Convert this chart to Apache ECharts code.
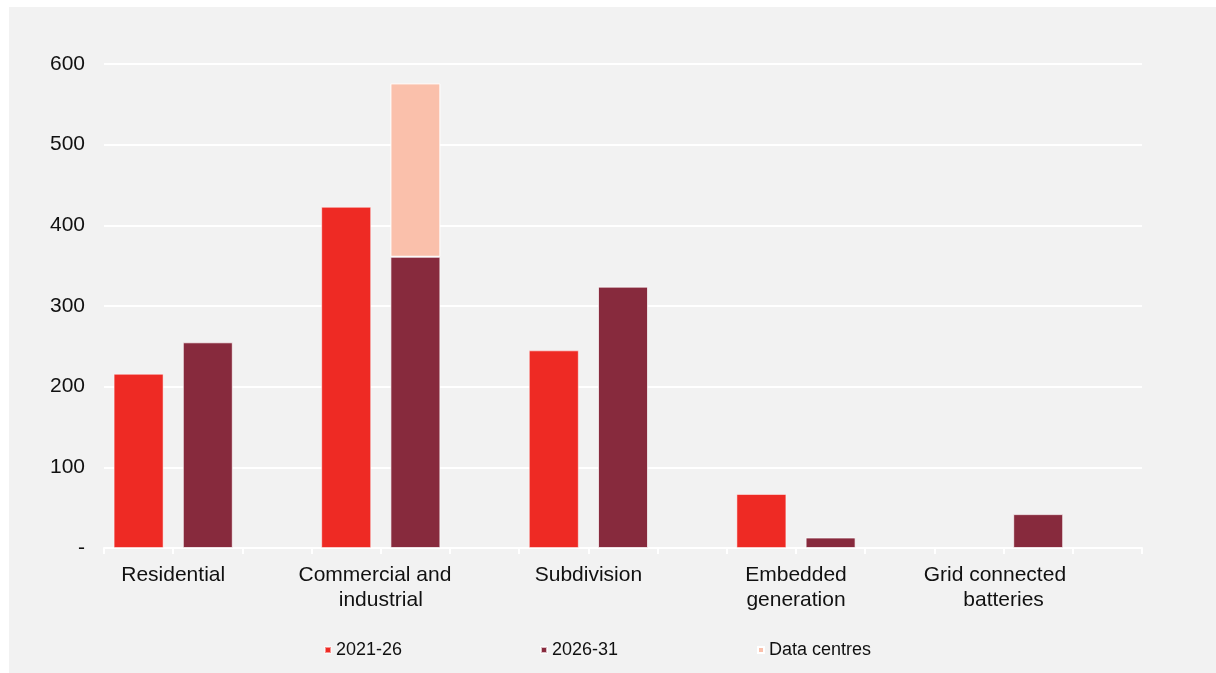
<!DOCTYPE html>
<html>
<head>
<meta charset="utf-8">
<script src="https://cdn.jsdelivr.net/npm/echarts@6/dist/echarts.min.js"></script>
<style>
  html, body { margin: 0; padding: 0; background: #ffffff; }
  #chart { position: absolute; left: 9px; top: 7px; width: 1207px; height: 666px; background: #f2f2f2; }
</style>
</head>
<body>
<div id="chart"></div>
<script>
// Connection demand by customer segment (two regulatory periods)
const categories = ['Residential', 'Commercial and  \nindustrial', 'Subdivision', 'Embedded\ngeneration', 'Grid connected   \nbatteries'];
const period2126 = [216, 423, 245, 67, 0];
const period2631 = [255, 361, 324, 13, 42];
const dataCentres = [0, 215, 0, 0, 0];
const yTicks = [0, 100, 200, 300, 400, 500, 600];

const COLORS = { p1: '#ee2a24', p2: '#872a3d', dc: '#fac0ab' };

// Each segment takes three slots on the axis: first period, second period, spacer.
const SLOTS = categories.length * 3;
const slotData = (vals, offset) => {
  const out = new Array(SLOTS).fill(null);
  vals.forEach((v, i) => { out[i * 3 + offset] = v === 0 ? null : v; });
  return out;
};
const slotNames = Array.from({ length: SLOTS }, (_, i) => 's' + i);

// Group labels sit on the boundary between a segment's two bars.
const labelPoints = new Array(SLOTS + 1).fill('');
categories.forEach((c, i) => { labelPoints[i * 3 + 1] = c; });

const chart = echarts.init(document.getElementById('chart'));
const OX = 9, OY = 7;
const baseFont = 'Liberation Sans, Arial, sans-serif';

const legendAt = (name, left) => ({
  data: [name],
  left: left - OX,
  top: 641 - OY,
  padding: 0,
  icon: 'rect',
  itemWidth: 6,
  itemHeight: 6,
  selectedMode: false,
  textStyle: { fontFamily: baseFont, fontSize: 18, color: '#111' }
});

chart.setOption({
  animation: false,
  backgroundColor: '#f2f2f2',
  grid: { left: 104 - OX, right: 1207 - (1142 - OX), top: 64 - OY, bottom: 673 - 548 },
  legend: [
    legendAt('2021-26', 324),
    legendAt('2026-31', 540),
    legendAt('Data centres', 757)
  ],
  xAxis: [
    {
      type: 'category',
      data: slotNames,
      boundaryGap: true,
      axisLine: { show: true, lineStyle: { color: '#ffffff', width: 2 } },
      axisTick: { show: true, length: 6, lineStyle: { color: '#ffffff', width: 2 } },
      axisLabel: { show: false },
      splitLine: { show: false }
    },
    {
      type: 'category',
      data: labelPoints,
      boundaryGap: false,
      position: 'bottom',
      axisLine: { show: false },
      axisTick: { show: false },
      splitLine: { show: false },
      axisLabel: {
        interval: 0,
        margin: 15,
        fontFamily: baseFont,
        fontSize: 21,
        lineHeight: 25,
        color: '#111',
        align: 'center'
      }
    }
  ],
  yAxis: {
    type: 'value',
    min: yTicks[0],
    max: yTicks[yTicks.length - 1],
    interval: 100,
    axisLine: { show: false },
    axisTick: { show: false },
    splitLine: { lineStyle: { color: '#ffffff', width: 2 } },
    axisLabel: {
      margin: 19,
      fontFamily: baseFont,
      fontSize: 21,
      color: '#111',
      formatter: v => (v === 0 ? '-' : String(v))
    }
  },
  series: [
    {
      name: '2021-26',
      type: 'bar',
      xAxisIndex: 0,
      data: slotData(period2126, 0),
      barWidth: 50,
      barGap: '-100%',
      itemStyle: { color: COLORS.p1, borderColor: 'rgba(255,255,255,0.5)', borderWidth: 1 }
    },
    {
      name: '2026-31',
      type: 'bar',
      xAxisIndex: 0,
      stack: 'later',
      data: slotData(period2631, 1),
      barWidth: 50,
      barGap: '-100%',
      itemStyle: { color: COLORS.p2, borderColor: 'rgba(255,255,255,0.7)', borderWidth: 1 }
    },
    {
      name: 'Data centres',
      type: 'bar',
      xAxisIndex: 0,
      stack: 'later',
      data: slotData(dataCentres, 1),
      barWidth: 50,
      barGap: '-100%',
      itemStyle: { color: COLORS.dc, borderColor: '#ffffff', borderWidth: 1 }
    }
  ]
});
</script>
</body>
</html>
